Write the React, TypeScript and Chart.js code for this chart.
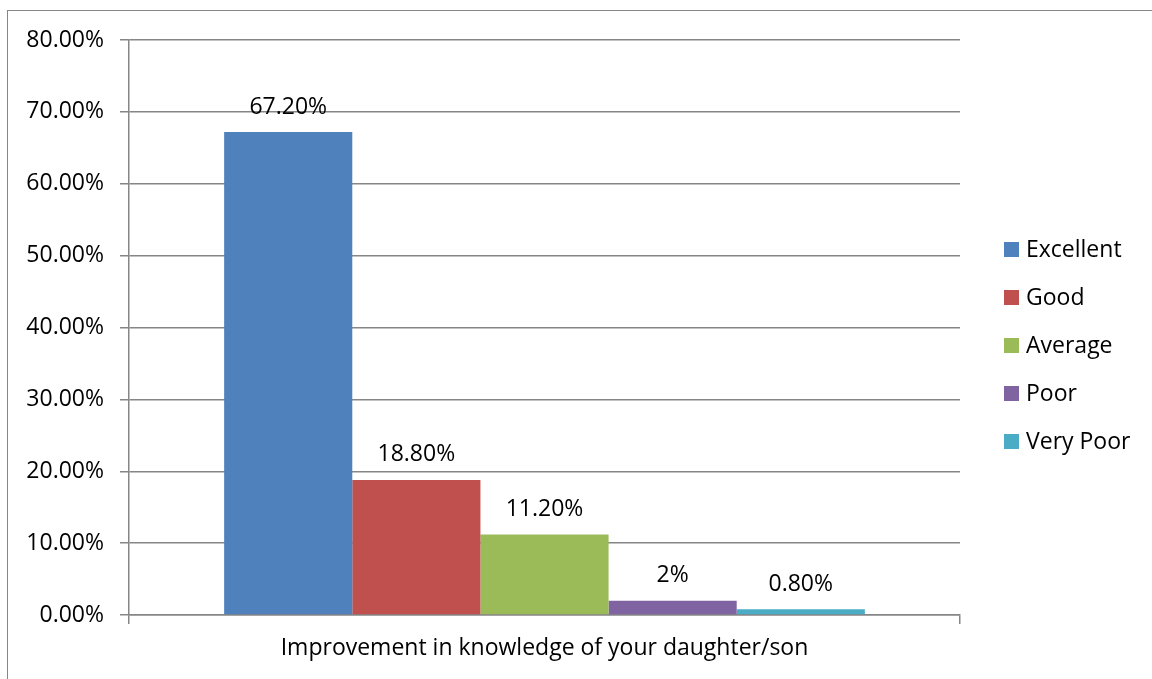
import React, { useEffect, useRef } from "react";
import { Chart, registerables } from "chart.js";
Chart.register(...registerables);

const categories = ["Improvement in knowledge of your daughter/son"];
const seriesNames = ["Excellent", "Good", "Average", "Poor", "Very Poor"];
const seriesValues = [67.2, 18.8, 11.2, 2, 0.8];
const valueLabels = ["67.20%", "18.80%", "11.20%", "2%", "0.80%"];
const seriesColors = ["#4F81BD", "#C0504D", "#9BBB59", "#8064A2", "#4BACC6"];
const yMax = 80;
const yStep = 10;

const FONT = "'Open Sans'";
const FONT_SIZE = 23;
const GRID = "#868686";

const decorPlugin = {
  id: "decor",
  beforeDraw(chart: any) {
    const ctx = chart.ctx;
    ctx.save();
    ctx.strokeStyle = GRID;
    ctx.lineWidth = 1;
    ctx.strokeRect(7.5, 10.5, 2000, 2000);
    ctx.restore();
  },
  afterDatasetsDraw(chart: any) {
    const ctx = chart.ctx;
    ctx.save();
    ctx.font = `${FONT_SIZE}px ${FONT}`;
    ctx.fillStyle = "#000";
    ctx.textAlign = "center";
    ctx.textBaseline = "middle";
    chart.data.datasets.forEach((ds: any, i: number) => {
      const meta = chart.getDatasetMeta(i);
      const el = meta.data[0];
      if (!el) return;
      ctx.fillText(valueLabels[i], el.x, el.y - 25);
    });
    ctx.restore();
  },
  afterDraw(chart: any) {
    const ctx = chart.ctx;
    ctx.save();
    ctx.font = `${FONT_SIZE}px ${FONT}`;
    ctx.textAlign = "left";
    ctx.textBaseline = "middle";
    const x0 = 1004;
    const y0 = 249.5;
    const gap = 48;
    chart.data.datasets.forEach((ds: any, i: number) => {
      const cy = y0 + i * gap;
      ctx.fillStyle = ds.backgroundColor;
      ctx.fillRect(x0, cy - 7.5, 15, 15);
      ctx.fillStyle = "#000";
      ctx.fillText(ds.label, x0 + 22, cy + 1);
    });
    ctx.restore();
  },
};

export default function App() {
  const ref = useRef<HTMLCanvasElement | null>(null);
  useEffect(() => {
    if (!ref.current) return;
    const chart = new Chart(ref.current, {
      type: "bar",
      data: {
        labels: categories,
        datasets: seriesNames.map((name, i) => ({
          label: name,
          data: [seriesValues[i]],
          backgroundColor: seriesColors[i],
          borderWidth: 0,
          barPercentage: 1,
          categoryPercentage: 0.771,
        })),
      },
      options: {
        responsive: false,
        animation: false,
        layout: { padding: { left: 0, top: 40, right: 192, bottom: 0 } },
        plugins: {
          legend: { display: false },
          tooltip: { enabled: false },
        },
        scales: {
          x: {
            afterFit: (s: any) => {
              s.height = 64;
            },
            grid: {
              display: true,
              drawOnChartArea: false,
              drawTicks: true,
              tickLength: 9,
              color: GRID,
              lineWidth: 1.5,
              offset: true,
            },
            border: { color: GRID, width: 1.5 },
            ticks: {
              color: "#000",
              font: { family: FONT, size: FONT_SIZE },
              padding: 11,
              maxRotation: 0,
            },
          },
          y: {
            min: 0,
            max: yMax,
            afterFit: (s: any) => {
              s.width = 129;
            },
            grid: {
              color: GRID,
              tickLength: 9,
              lineWidth: 1.5,
            },
            border: { color: GRID, width: 1.5 },
            ticks: {
              stepSize: yStep,
              color: "#000",
              font: { family: FONT, size: FONT_SIZE },
              padding: 16,
              callback: (v: any) => Number(v).toFixed(2) + "%",
            },
          },
        },
      },
      plugins: [decorPlugin],
    });
    return () => chart.destroy();
  }, []);
  return (
    <div style={{ position: "absolute", left: 0, top: 0, width: 1152, height: 679, background: "#fff" }}>
      <canvas ref={ref} width={1152} height={679} style={{ display: "block" }} />
    </div>
  );
}
